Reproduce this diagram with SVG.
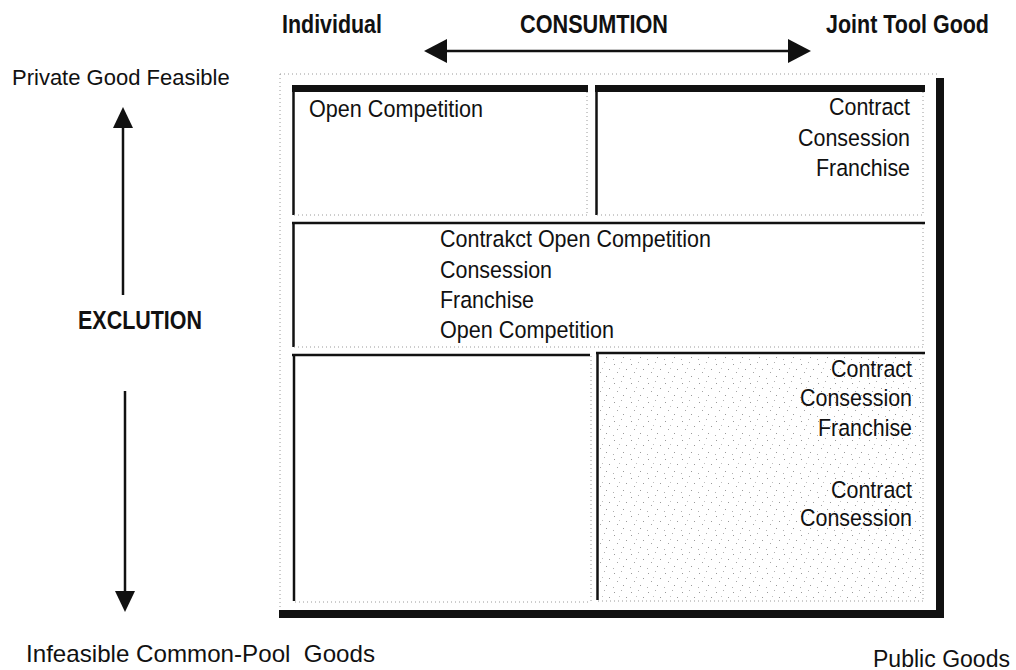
<svg xmlns="http://www.w3.org/2000/svg" width="1016" height="670" viewBox="0 0 1016 670">
<style>
  .lbl{font-family:"Liberation Sans",Arial,sans-serif;fill:#111;}
  .b{font-weight:bold;font-size:25px;}
  .r{font-size:24.5px;}
  .solid{stroke:#111;stroke-width:2.5;fill:none;}
  .dot{stroke:#9a9a9a;stroke-width:1;stroke-dasharray:1 3;fill:none;}
  .bar{fill:#111;}
  .arrow{stroke:#111;stroke-width:2.5;fill:none;}
  .head{fill:#111;}
</style>
<defs>
  <pattern id="stipple" width="17" height="19" patternUnits="userSpaceOnUse">
    <rect x="2" y="3" width="1" height="1" fill="#9a9a9a"/>
    <rect x="9" y="1" width="1" height="1" fill="#b0b0b0"/>
    <rect x="14" y="8" width="1" height="1" fill="#9a9a9a"/>
    <rect x="5" y="11" width="1" height="1" fill="#a5a5a5"/>
    <rect x="11" y="15" width="1" height="1" fill="#9a9a9a"/>
    <rect x="1" y="17" width="1" height="1" fill="#b0b0b0"/>
    <rect x="7" y="7" width="1" height="1" fill="#c0c0c0"/>
  </pattern>
</defs>
<rect width="1016" height="670" fill="#fff"/>

<g id="header">
  <text class="lbl b" x="282" y="33" textLength="100" lengthAdjust="spacingAndGlyphs">Individual</text>
  <text class="lbl b" x="520" y="33" textLength="148" lengthAdjust="spacingAndGlyphs">CONSUMTION</text>
  <text class="lbl b" x="826" y="33" textLength="163" lengthAdjust="spacingAndGlyphs">Joint Tool Good</text>
</g>

<g id="side-labels">
  <text class="lbl" x="12" y="85" font-size="22">Private Good Feasible</text>
  <text class="lbl b" x="78" y="329" textLength="124" lengthAdjust="spacingAndGlyphs">EXCLUTION</text>
  <text class="lbl" x="26" y="662" font-size="24" textLength="349" lengthAdjust="spacingAndGlyphs" xml:space="preserve">Infeasible Common-Pool  Goods</text>
  <text class="lbl" x="873" y="667" font-size="23" textLength="137" lengthAdjust="spacingAndGlyphs" fill="#222">Public Goods</text>
</g>

<g id="connectors">
  <line class="arrow" x1="440" y1="51" x2="795" y2="51"/>
  <polygon class="head" points="424,51 447,39 447,63"/>
  <polygon class="head" points="811,51 788,39 788,63"/>
  <line class="arrow" x1="123" y1="120" x2="123" y2="295"/>
  <polygon class="head" points="123,107 113,128 133,128"/>
  <line class="arrow" x1="125" y1="391" x2="125" y2="598"/>
  <polygon class="head" points="125,612 115,591 135,591"/>
</g>

<g id="frame">
  <line class="dot" x1="280" y1="74" x2="940" y2="74"/>
  <line class="dot" x1="280" y1="74" x2="280" y2="610"/>
  <rect class="bar" x="936" y="78" width="8" height="540"/>
  <rect class="bar" x="279" y="610" width="665" height="8"/>
</g>

<g id="cell-top-left">
  <rect class="bar" x="292" y="85" width="296" height="7"/>
  <line class="solid" x1="293.5" y1="85" x2="293.5" y2="215"/>
  <line class="dot" x1="587" y1="92" x2="587" y2="215"/>
  <line class="dot" x1="294" y1="215" x2="587" y2="215"/>
  <text class="lbl r" x="309" y="117" textLength="174" lengthAdjust="spacingAndGlyphs">Open Competition</text>
</g>

<g id="cell-top-right">
  <rect class="bar" x="595" y="85" width="330" height="7"/>
  <line class="solid" x1="596.5" y1="85" x2="596.5" y2="215"/>
  <line class="dot" x1="923" y1="92" x2="923" y2="215"/>
  <line class="dot" x1="597" y1="215" x2="923" y2="215"/>
  <text class="lbl r" x="829" y="115" textLength="81" lengthAdjust="spacingAndGlyphs">Contract</text>
  <text class="lbl r" x="798" y="146" textLength="112" lengthAdjust="spacingAndGlyphs">Consession</text>
  <text class="lbl r" x="816" y="176" textLength="94" lengthAdjust="spacingAndGlyphs">Franchise</text>
</g>

<g id="cell-middle">
  <line class="solid" x1="292" y1="223" x2="925" y2="223"/>
  <line class="solid" x1="293.5" y1="223" x2="293.5" y2="347"/>
  <line class="dot" x1="923" y1="224" x2="923" y2="347"/>
  <line class="dot" x1="294" y1="347" x2="923" y2="347"/>
  <text class="lbl r" x="440" y="247" textLength="271" lengthAdjust="spacingAndGlyphs">Contrakct Open Competition</text>
  <text class="lbl r" x="440" y="278" textLength="112" lengthAdjust="spacingAndGlyphs">Consession</text>
  <text class="lbl r" x="440" y="308" textLength="94" lengthAdjust="spacingAndGlyphs">Franchise</text>
  <text class="lbl r" x="440" y="338" textLength="174" lengthAdjust="spacingAndGlyphs">Open Competition</text>
</g>

<g id="cell-bottom-left">
  <line class="solid" x1="292" y1="355" x2="590" y2="355"/>
  <line class="solid" x1="294" y1="355" x2="294" y2="601"/>
  <line class="dot" x1="591" y1="356" x2="591" y2="602"/>
  <line class="dot" x1="295" y1="602" x2="591" y2="602"/>
</g>

<g id="cell-bottom-right">
  <rect x="597" y="353" width="326" height="247" fill="url(#stipple)"/>
  <line class="solid" x1="596" y1="353" x2="925" y2="353"/>
  <line class="solid" x1="597.5" y1="353" x2="597.5" y2="600"/>
  <line class="dot" x1="923" y1="354" x2="923" y2="601"/>
  <line class="dot" x1="598" y1="601" x2="923" y2="601"/>
  <text class="lbl r" x="831" y="377" textLength="81" lengthAdjust="spacingAndGlyphs">Contract</text>
  <text class="lbl r" x="800" y="406" textLength="112" lengthAdjust="spacingAndGlyphs">Consession</text>
  <text class="lbl r" x="818" y="436" textLength="94" lengthAdjust="spacingAndGlyphs">Franchise</text>
  <text class="lbl r" x="831" y="498" textLength="81" lengthAdjust="spacingAndGlyphs">Contract</text>
  <text class="lbl r" x="800" y="526" textLength="112" lengthAdjust="spacingAndGlyphs">Consession</text>
</g>
</svg>
